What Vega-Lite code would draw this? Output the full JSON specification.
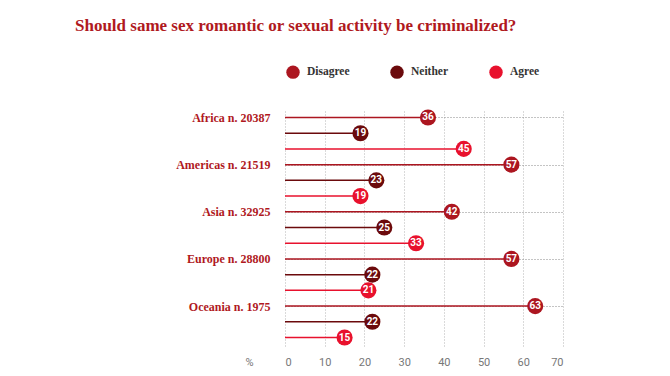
{
  "$schema": "https://vega.github.io/schema/vega-lite/v6.json",
  "autosize": "none",
  "width": 278,
  "height": 237,
  "padding": {"left": 285, "top": 109, "right": 107, "bottom": 30},
  "background": "white",
  "view": {"stroke": null},
  "title": {
    "text": "Should same sex romantic or sexual activity be criminalized?",
    "anchor": "start",
    "frame": "group",
    "dx": -210,
    "dy": -26,
    "font": "Liberation Serif",
    "fontSize": 17,
    "fontWeight": "bold",
    "color": "#b0191e"
  },
  "data": {
    "values": [
      {"row": "Africa n. 20387|Disagree", "region": "Africa n. 20387", "answer": "Disagree", "value": 36},
      {"row": "Africa n. 20387|Neither", "region": "Africa n. 20387", "answer": "Neither", "value": 19},
      {"row": "Africa n. 20387|Agree", "region": "Africa n. 20387", "answer": "Agree", "value": 45},
      {"row": "Americas n. 21519|Disagree", "region": "Americas n. 21519", "answer": "Disagree", "value": 57},
      {"row": "Americas n. 21519|Neither", "region": "Americas n. 21519", "answer": "Neither", "value": 23},
      {"row": "Americas n. 21519|Agree", "region": "Americas n. 21519", "answer": "Agree", "value": 19},
      {"row": "Asia n. 32925|Disagree", "region": "Asia n. 32925", "answer": "Disagree", "value": 42},
      {"row": "Asia n. 32925|Neither", "region": "Asia n. 32925", "answer": "Neither", "value": 25},
      {"row": "Asia n. 32925|Agree", "region": "Asia n. 32925", "answer": "Agree", "value": 33},
      {"row": "Europe n. 28800|Disagree", "region": "Europe n. 28800", "answer": "Disagree", "value": 57},
      {"row": "Europe n. 28800|Neither", "region": "Europe n. 28800", "answer": "Neither", "value": 22},
      {"row": "Europe n. 28800|Agree", "region": "Europe n. 28800", "answer": "Agree", "value": 21},
      {"row": "Oceania n. 1975|Disagree", "region": "Oceania n. 1975", "answer": "Disagree", "value": 63},
      {"row": "Oceania n. 1975|Neither", "region": "Oceania n. 1975", "answer": "Neither", "value": 22},
      {"row": "Oceania n. 1975|Agree", "region": "Oceania n. 1975", "answer": "Agree", "value": 15}
    ]
  },
  "encoding": {
    "y": {
      "field": "row",
      "type": "nominal",
      "sort": null,
      "scale": {"type": "point", "padding": 0.54},
      "axis": {
        "title": null,
        "domain": false,
        "ticks": false,
        "labelPadding": 15,
        "labelExpr": "split(datum.value, '|')[1] == 'Disagree' ? split(datum.value, '|')[0] : ''",
        "labelFont": "Liberation Serif",
        "labelFontSize": 12,
        "labelFontWeight": "bold",
        "labelColor": "#b0191e",
        "grid": true,
        "gridDash": [1, 2],
        "gridColor": "#888888",
        "gridOpacity": {"condition": {"test": "indexof(datum.value, '|Disagree') >= 0", "value": 1}, "value": 0}
      }
    },
    "x": {
      "field": "value",
      "type": "quantitative",
      "scale": {"domain": [0, 70], "nice": false},
      "axis": {
        "values": [0, 10, 20, 30, 40, 50, 60, 70],
        "title": "%",
        "titleX": -36,
        "titleY": 10,
        "titleAlign": "center",
        "titleBaseline": "top",
        "titleFont": "Roboto",
        "titleFontSize": 11,
        "titleFontWeight": "normal",
        "titleColor": "#777777",
        "domain": false,
        "ticks": false,
        "labelPadding": 10,
        "labelFont": "Roboto",
        "labelFontSize": 11,
        "labelColor": "#777777",
        "grid": true,
        "gridDash": [1, 2],
        "gridColor": "#b5b5b5"
      }
    },
    "color": {
      "field": "answer",
      "type": "nominal",
      "scale": {"domain": ["Disagree", "Neither", "Agree"], "range": ["#ac1620", "#6b0a0c", "#e8112d"]},
      "legend": {
        "title": null,
        "orient": "none",
        "direction": "horizontal",
        "legendX": 1,
        "legendY": -44,
        "symbolType": "circle",
        "symbolSize": 180,
        "symbolOpacity": 1,
        "symbolStrokeWidth": 0,
        "columnPadding": 40,
        "labelFont": "Liberation Serif",
        "labelFontSize": 11.5,
        "labelFontWeight": "bold",
        "labelColor": "#333333",
        "labelOffset": 7
      }
    }
  },
  "layer": [
    {
      "mark": {"type": "rule", "strokeWidth": 1.5},
      "encoding": {
        "x2": {"datum": 0}
      }
    },
    {
      "mark": {"type": "circle", "opacity": 1, "size": 260}
    },
    {
      "mark": {"type": "text", "color": "white", "font": "Roboto", "fontWeight": "bold", "fontSize": 10, "baseline": "middle", "align": "center"},
      "encoding": {
        "color": {"value": "white"},
        "text": {"field": "value", "type": "quantitative"}
      }
    }
  ]
}
